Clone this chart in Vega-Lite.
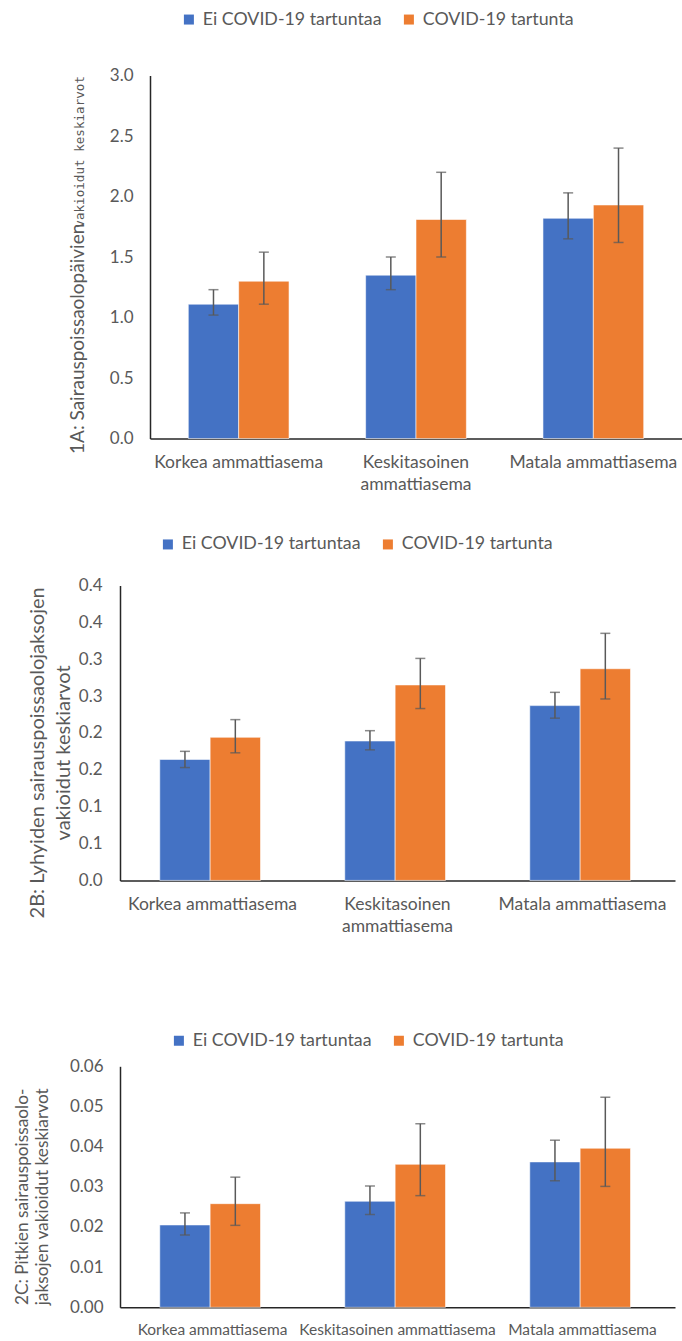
{
  "$schema": "https://vega.github.io/schema/vega-lite/v6.json",
  "padding": {"left": 2, "top": 10.5, "right": 0, "bottom": 0},
  "config": {
    "font": "Lato",
    "view": {"stroke": null},
    "axis": {
      "labelColor": "#595959",
      "titleColor": "#595959",
      "titleFontWeight": "normal",
      "domainColor": "#262626",
      "domainWidth": 1.5,
      "ticks": false,
      "grid": false,
      "labelFontSize": 17,
      "labelLimit": 400,
      "titleFontSize": 20
    },
    "legend": {
      "labelColor": "#595959",
      "labelFontSize": 17.8,
      "labelLimit": 400,
      "symbolType": "square",
      "symbolSize": 100,
      "symbolStrokeWidth": 0,
      "padding": 0,
      "direction": "horizontal",
      "orient": "none",
      "titleOrient": "left",
      "titleFontSize": 1,
      "labelOffset": 5,
      "columnPadding": 18
    }
  },
  "datasets": {
    "d1": [
      {"level": "Korkea ammattiasema", "group": "Ei COVID-19 tartuntaa", "mean": 1.11, "lo": 1.02, "hi": 1.23},
      {"level": "Korkea ammattiasema", "group": "COVID-19 tartunta", "mean": 1.30, "lo": 1.11, "hi": 1.54},
      {"level": "Keskitasoinen ammattiasema", "group": "Ei COVID-19 tartuntaa", "mean": 1.35, "lo": 1.23, "hi": 1.50},
      {"level": "Keskitasoinen ammattiasema", "group": "COVID-19 tartunta", "mean": 1.81, "lo": 1.50, "hi": 2.20},
      {"level": "Matala ammattiasema", "group": "Ei COVID-19 tartuntaa", "mean": 1.82, "lo": 1.65, "hi": 2.03},
      {"level": "Matala ammattiasema", "group": "COVID-19 tartunta", "mean": 1.93, "lo": 1.62, "hi": 2.40}
    ],
    "d2": [
      {"level": "Korkea ammattiasema", "group": "Ei COVID-19 tartuntaa", "mean": 0.164, "lo": 0.153, "hi": 0.175},
      {"level": "Korkea ammattiasema", "group": "COVID-19 tartunta", "mean": 0.194, "lo": 0.173, "hi": 0.218},
      {"level": "Keskitasoinen ammattiasema", "group": "Ei COVID-19 tartuntaa", "mean": 0.189, "lo": 0.177, "hi": 0.203},
      {"level": "Keskitasoinen ammattiasema", "group": "COVID-19 tartunta", "mean": 0.265, "lo": 0.233, "hi": 0.301},
      {"level": "Matala ammattiasema", "group": "Ei COVID-19 tartuntaa", "mean": 0.237, "lo": 0.220, "hi": 0.255},
      {"level": "Matala ammattiasema", "group": "COVID-19 tartunta", "mean": 0.287, "lo": 0.246, "hi": 0.335}
    ],
    "d3": [
      {"level": "Korkea ammattiasema", "group": "Ei COVID-19 tartuntaa", "mean": 0.0205, "lo": 0.0180, "hi": 0.0235},
      {"level": "Korkea ammattiasema", "group": "COVID-19 tartunta", "mean": 0.0258, "lo": 0.0204, "hi": 0.0324},
      {"level": "Keskitasoinen ammattiasema", "group": "Ei COVID-19 tartuntaa", "mean": 0.0264, "lo": 0.0231, "hi": 0.0302},
      {"level": "Keskitasoinen ammattiasema", "group": "COVID-19 tartunta", "mean": 0.0356, "lo": 0.0278, "hi": 0.0457},
      {"level": "Matala ammattiasema", "group": "Ei COVID-19 tartuntaa", "mean": 0.0362, "lo": 0.0315, "hi": 0.0416},
      {"level": "Matala ammattiasema", "group": "COVID-19 tartunta", "mean": 0.0396, "lo": 0.0301, "hi": 0.0523}
    ]
  },
  "concat": [
    {
      "width": 562,
      "height": 363,
      "data": {"name": "d1"},
      "layer": [
        {
          "mark": {"type": "bar", "stroke": "#ffffff", "strokeWidth": 0.8, "strokeOpacity": 0.7},
          "encoding": {
            "x": {
              "field": "level", "type": "nominal",
              "sort": ["Korkea ammattiasema", "Keskitasoinen ammattiasema", "Matala ammattiasema"],
              "scale": {"range": [30, 562], "paddingInner": 0.432, "paddingOuter": 0.216},
              "axis": {
                "title": null, "labelAngle": 0, "labelFontSize": 17.5, "labelPadding": 15,
                "labelBaseline": "top", "labelLineHeight": 22,
                "labelExpr": "datum.value == 'Keskitasoinen ammattiasema' ? ['Keskitasoinen', 'ammattiasema'] : datum.value"
              }
            },
            "xOffset": {"field": "group", "type": "nominal", "sort": ["Ei COVID-19 tartuntaa", "COVID-19 tartunta"]},
            "y": {
              "field": "mean", "type": "quantitative",
              "scale": {"domain": [0, 3]},
              "axis": {
                "offset": -30,
                "values": [0, 0.5, 1, 1.5, 2, 2.5, 3], "format": ".1f", "labelPadding": 17,
                "title": "1A:  Sairauspoissaolopäivien", "titleFontSize": 19,
                "titleX": -67, "titleY": 378, "titleAngle": -90, "titleAlign": "left", "titleBaseline": "alphabetic"
              }
            },
            "color": {
              "field": "group", "type": "nominal",
              "scale": {"domain": ["Ei COVID-19 tartuntaa", "COVID-19 tartunta"], "range": ["#4472C4", "#ED7D31"]},
              "legend": {"title": " ", "legendX": -118, "legendY": -65, "titlePadding": 178}
            }
          }
        },
        {
          "mark": {"type": "rule", "color": "#595959", "strokeWidth": 1.5},
          "encoding": {
            "x": {"field": "level", "type": "nominal", "sort": ["Korkea ammattiasema", "Keskitasoinen ammattiasema", "Matala ammattiasema"]},
            "xOffset": {"field": "group", "type": "nominal", "sort": ["Ei COVID-19 tartuntaa", "COVID-19 tartunta"]},
            "y": {
              "field": "lo", "type": "quantitative",
              "scale": {"domain": [0, 3]},
              "axis": {
                "orient": "left", "offset": -30, "domain": false, "labels": false,
                "title": "vakioidut keskiarvot", "titleFont": "DejaVu Sans Mono", "titleFontSize": 12.6,
                "titleX": -67, "titleY": 0, "titleAngle": -90, "titleAlign": "right", "titleBaseline": "alphabetic"
              }
            },
            "y2": {"field": "hi"}
          }
        },
        {
          "mark": {"type": "tick", "color": "#595959", "thickness": 1.5, "size": 10, "orient": "horizontal"},
          "encoding": {
            "x": {"field": "level", "type": "nominal", "sort": ["Korkea ammattiasema", "Keskitasoinen ammattiasema", "Matala ammattiasema"]},
            "xOffset": {"field": "group", "type": "nominal", "sort": ["Ei COVID-19 tartuntaa", "COVID-19 tartunta"]},
            "y": {"field": "lo", "type": "quantitative", "scale": {"domain": [0, 3]}, "axis": null}
          }
        },
        {
          "mark": {"type": "tick", "color": "#595959", "thickness": 1.5, "size": 10, "orient": "horizontal"},
          "encoding": {
            "x": {"field": "level", "type": "nominal", "sort": ["Korkea ammattiasema", "Keskitasoinen ammattiasema", "Matala ammattiasema"]},
            "xOffset": {"field": "group", "type": "nominal", "sort": ["Ei COVID-19 tartuntaa", "COVID-19 tartunta"]},
            "y": {"field": "hi", "type": "quantitative", "scale": {"domain": [0, 3]}, "axis": null}
          }
        }
      ],
      "resolve": {"scale": {"y": "independent"}}
    },
    {
      "width": 555,
      "height": 295,
      "data": {"name": "d2"},
      "encoding": {
        "x": {
          "field": "level", "type": "nominal",
          "sort": ["Korkea ammattiasema", "Keskitasoinen ammattiasema", "Matala ammattiasema"],
          "scale": {"paddingInner": 0.43, "paddingOuter": 0.215},
          "axis": {
            "title": " ", "titleFontSize": 1, "titlePadding": 53.5,
            "labelAngle": 0, "labelFontSize": 17.5, "labelPadding": 15,
            "labelBaseline": "top", "labelLineHeight": 22,
            "labelExpr": "datum.value == 'Keskitasoinen ammattiasema' ? ['Keskitasoinen', 'ammattiasema'] : datum.value"
          }
        },
        "xOffset": {"field": "group", "type": "nominal", "sort": ["Ei COVID-19 tartuntaa", "COVID-19 tartunta"]}
      },
      "layer": [
        {
          "mark": {"type": "bar", "stroke": "#ffffff", "strokeWidth": 0.8, "strokeOpacity": 0.7},
          "encoding": {
            "y": {
              "field": "mean", "type": "quantitative",
              "scale": {"domain": [0, 0.4]},
              "axis": {
                "values": [0, 0.05, 0.1, 0.15, 0.2, 0.25, 0.3, 0.35, 0.4],
                "labelExpr": "format(datum.value + 1e-9, '.1f')", "labelPadding": 18,
                "title": ["2B:  Lyhyiden sairauspoissaolojaksojen", "vakioidut keskiarvot"],
                "titleX": -77, "titleY": 167, "titleAngle": -90, "titleAlign": "center",
                "titleBaseline": "alphabetic", "titleLineHeight": 26.5
              }
            },
            "color": {
              "field": "group", "type": "nominal",
              "scale": {"domain": ["Ei COVID-19 tartuntaa", "COVID-19 tartunta"], "range": ["#4472C4", "#ED7D31"]},
              "legend": {"title": null, "legendX": 39, "legendY": -50}
            }
          }
        },
        {
          "mark": {"type": "rule", "color": "#595959", "strokeWidth": 1.5},
          "encoding": {
            "y": {"field": "lo", "type": "quantitative", "axis": null},
            "y2": {"field": "hi"}
          }
        },
        {
          "mark": {"type": "tick", "color": "#595959", "thickness": 1.5, "size": 10, "orient": "horizontal"},
          "encoding": {"y": {"field": "lo", "type": "quantitative", "axis": null}}
        },
        {
          "mark": {"type": "tick", "color": "#595959", "thickness": 1.5, "size": 10, "orient": "horizontal"},
          "encoding": {"y": {"field": "hi", "type": "quantitative", "axis": null}}
        }
      ],
      "resolve": {"axis": {"y": "independent"}}
    },
    {
      "width": 555,
      "height": 241,
      "data": {"name": "d3"},
      "encoding": {
        "x": {
          "field": "level", "type": "nominal",
          "sort": ["Korkea ammattiasema", "Keskitasoinen ammattiasema", "Matala ammattiasema"],
          "scale": {"paddingInner": 0.43, "paddingOuter": 0.215},
          "axis": {"title": null, "labelAngle": 0, "labelFontSize": 15.5, "labelPadding": 15, "labelBaseline": "top"}
        },
        "xOffset": {"field": "group", "type": "nominal", "sort": ["Ei COVID-19 tartuntaa", "COVID-19 tartunta"]}
      },
      "layer": [
        {
          "mark": {"type": "bar", "stroke": "#ffffff", "strokeWidth": 0.8, "strokeOpacity": 0.7},
          "encoding": {
            "y": {
              "field": "mean", "type": "quantitative",
              "scale": {"domain": [0, 0.06]},
              "axis": {
                "values": [0, 0.01, 0.02, 0.03, 0.04, 0.05, 0.06], "format": ".2f", "labelPadding": 17,
                "title": ["2C: Pitkien sairauspoissaolo-", "jaksojen vakioidut keskiarvot"],
                "titleX": -93, "titleY": 130, "titleAngle": -90, "titleAlign": "center",
                "titleBaseline": "alphabetic", "titleLineHeight": 20.5, "titleFontSize": 17.3
              }
            },
            "color": {
              "field": "group", "type": "nominal",
              "scale": {"domain": ["Ei COVID-19 tartuntaa", "COVID-19 tartunta"], "range": ["#4472C4", "#ED7D31"]},
              "legend": {"title": null, "legendX": 50, "legendY": -34.6}
            }
          }
        },
        {
          "mark": {"type": "rule", "color": "#595959", "strokeWidth": 1.5},
          "encoding": {
            "y": {"field": "lo", "type": "quantitative", "axis": null},
            "y2": {"field": "hi"}
          }
        },
        {
          "mark": {"type": "tick", "color": "#595959", "thickness": 1.5, "size": 10, "orient": "horizontal"},
          "encoding": {"y": {"field": "lo", "type": "quantitative", "axis": null}}
        },
        {
          "mark": {"type": "tick", "color": "#595959", "thickness": 1.5, "size": 10, "orient": "horizontal"},
          "encoding": {"y": {"field": "hi", "type": "quantitative", "axis": null}}
        }
      ],
      "resolve": {"axis": {"y": "independent"}}
    }
  ],
  "columns": 1,
  "align": "none",
  "spacing": 41.9,
  "resolve": {"scale": {"color": "independent"}, "legend": {"color": "independent"}}
}
